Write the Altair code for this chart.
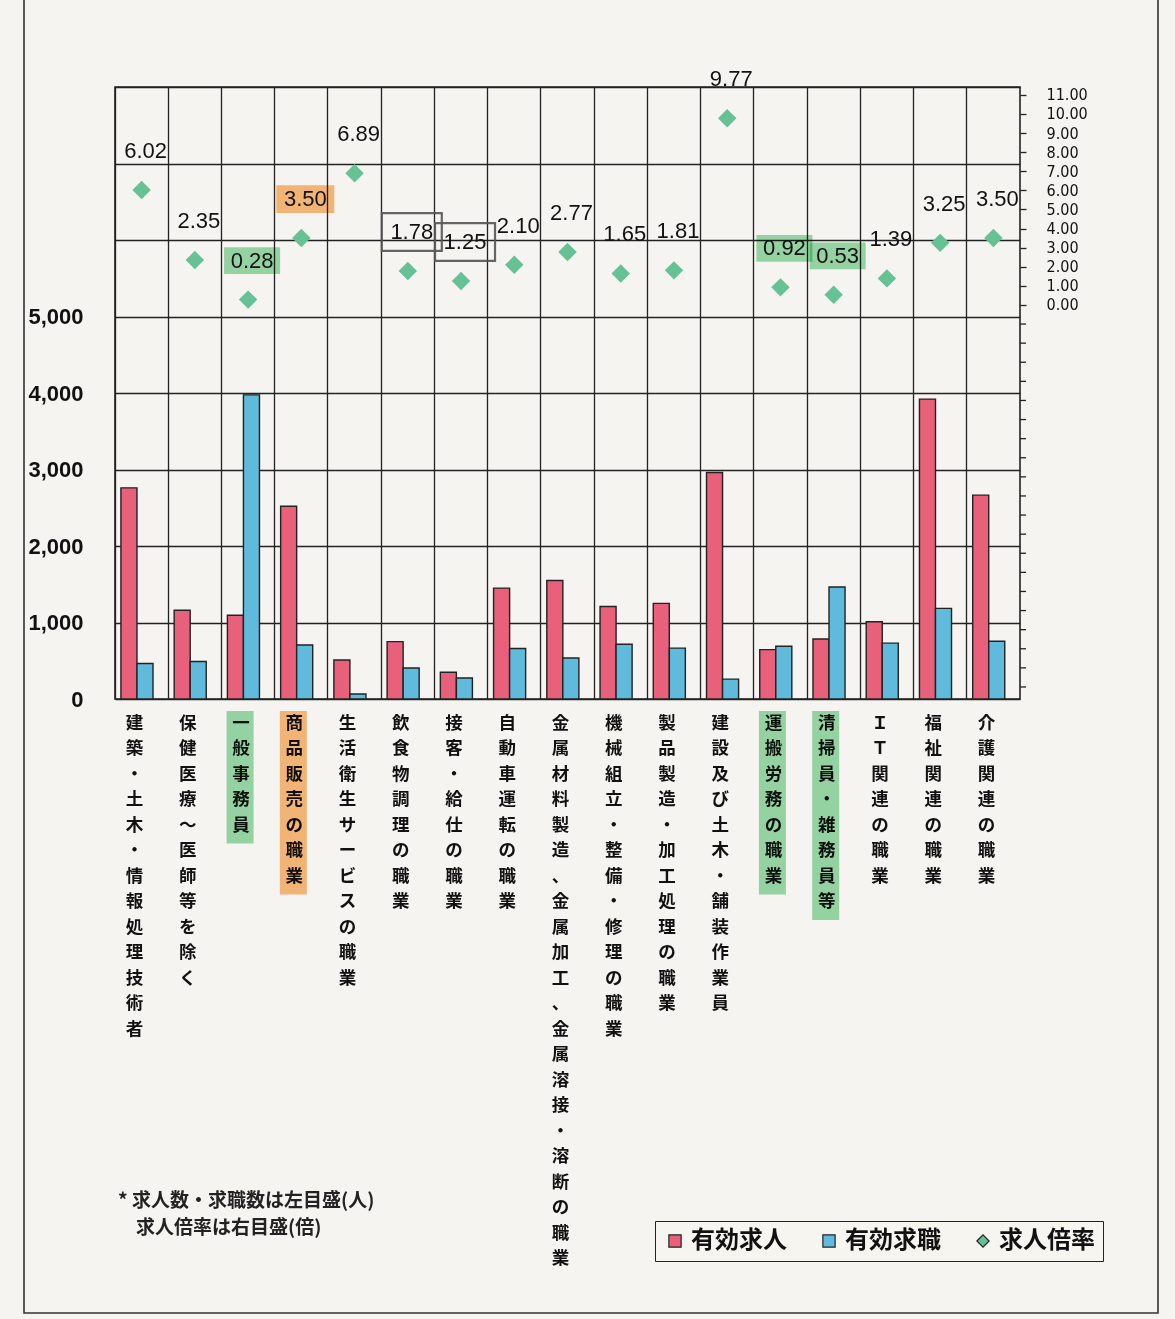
import altair as alt
import pandas as pd

# ---------------- data ----------------
categories = [
    "建築・土木・情報処理技術者",
    "保健医療〜医師等を除く",
    "一般事務員",
    "商品販売の職業",
    "生活衛生サービスの職業",
    "飲食物調理の職業",
    "接客・給仕の職業",
    "自動車運転の職業",
    "金属材料製造、金属加工、金属溶接・溶断の職業",
    "機械組立・整備・修理の職業",
    "製品製造・加工処理の職業",
    "建設及び土木・舗装作業員",
    "運搬労務の職業",
    "清掃員・雑務員等",
    "ＩＴ関連の職業",
    "福祉関連の職業",
    "介護関連の職業",
]
job_offers = [2760, 1160, 1095, 2520, 510, 750, 350, 1450, 1550, 1210, 1250, 2960, 645, 785, 1010, 3920, 2665]
job_seekers = [465, 490, 3975, 705, 65, 405, 275, 660, 535, 715, 665, 260, 690, 1465, 730, 1185, 755]
ratios = [6.02, 2.35, 0.28, 3.50, 6.89, 1.78, 1.25, 2.10, 2.77, 1.65, 1.81, 9.77, 0.92, 0.53, 1.39, 3.25, 3.50]
series_names = ["有効求人", "有効求職", "求人倍率"]
left_ticks = [0, 1000, 2000, 3000, 4000, 5000, 6000, 7000, 8000]
right_label_ticks = list(range(0, 12))
right_minor_ticks = list(range(-20, 0))
green_marked = ["一般事務員", "運搬労務の職業", "清掃員・雑務員等"]
orange_marked = ["商品販売の職業"]
boxed = ["飲食物調理の職業", "接客・給仕の職業"]
footnote_line1 = "* 求人数・求職数は左目盛(人)"
footnote_line2 = "求人倍率は右目盛(倍)"

bars_df = pd.DataFrame(
    {"cat": categories * 2,
     "series": [series_names[0]] * len(categories) + [series_names[1]] * len(categories),
     "value": job_offers + job_seekers}
)
rate_df = pd.DataFrame({"cat": categories, "ratio": ratios, "series": series_names[2]})
minor_df = pd.DataFrame({"ratio": right_minor_ticks})

# ---------------- style ----------------
W, H = 905, 612
RED, BLUE, GREEN = "#e8607a", "#5fbadb", "#66c295"
HL_GREEN, HL_ORANGE = "#8fd8a2", "#fbb56e"
JP = "Noto Sans CJK JP"
LAT = "Liberation Sans"
NARROW = "Liberation Sans Narrow, DejaVu Sans Condensed, Arial Narrow, sans-serif"
LINE_H = 25.5

color_scale = alt.Scale(domain=series_names, range=[RED, BLUE, GREEN])
shape_scale = alt.Scale(domain=series_names, range=["square", "square", "diamond"])
legend_def = alt.Legend(
    title=None, orient="none", legendX=540, legendY=1134, direction="horizontal",
    labelFont=JP, labelFontSize=24, labelFontWeight="bold", labelColor="#111",
    symbolSize=150, symbolStrokeWidth=1.2, symbolStrokeColor="#222",
    columnPadding=30, labelOffset=4, padding=8,
    strokeColor="#222", fillColor="#f6f5f0",
)

x_enc = alt.X(
    "cat:N", sort=categories, title=None,
    scale=alt.Scale(paddingInner=0, paddingOuter=0),
    axis=alt.Axis(
        bandPosition=0, grid=True, gridColor="#222", gridWidth=1.3,
        ticks=False, domain=False,
        labelExpr="split(datum.label, '')", labelAngle=0,
        labelAlign="center", labelBaseline="top", labelOffset=-7,
        labelPadding=15, labelLineHeight=LINE_H, labelLimit=0, labelOverlap=False,
        labelFont=JP, labelFontSize=17.5, labelFontWeight="bold", labelColor="#111",
    ),
)

left_y = alt.Y(
    "value:Q", title=None,
    scale=alt.Scale(domain=[0, 8000], nice=False, zero=True),
    axis=alt.Axis(
        values=left_ticks, grid=True, gridColor="#222", gridWidth=1.3,
        ticks=False, domain=False, labelPadding=32,
        labelExpr="datum.value <= 5000 ? format(datum.value, ',') : ''",
        labelFont=LAT, labelFontSize=22, labelFontWeight="bold", labelColor="#111",
    ),
)

right_scale = alt.Scale(domain=[-20.63, 11.41], nice=False, zero=False)
right_axis = alt.Axis(
    orient="right", values=right_label_ticks, format=".2f", grid=False, domain=False,
    tickSize=6, tickColor="#222", tickWidth=1.3, labelPadding=20,
    labelOverlap=False, labelBound=False, labelFlush=False,
    labelFont=NARROW, labelFontSize=16, labelColor="#111", labelAlign="left",
)

# ---------------- left group: bars ----------------
bars = alt.Chart(bars_df).mark_bar(stroke="#222", strokeWidth=1.4).encode(
    x=x_enc,
    xOffset=alt.XOffset(
        "series:N",
        scale=alt.Scale(domain=series_names[:2], paddingInner=0, paddingOuter=0.66, align=0.28),
    ),
    y=left_y,
    color=alt.Color("series:N", scale=color_scale, legend=legend_def),
)

# ---------------- right group: ratio diamonds + labels ----------------
OFF_Y, OFF_X = -39, 4
rect_path = "M-1,-0.48H1V0.48H-1Z"
box_path = "M-1,-0.63H1V0.63H-1Z"
y_rate = alt.Y("ratio:Q", scale=right_scale, axis=right_axis, title=None)

minor_ticks = alt.Chart(minor_df).mark_rule(color="#222", strokeWidth=1.3).encode(
    x=alt.value(W), x2=alt.value(W + 6), y=y_rate
)

hl_green_val = alt.Chart(rate_df).transform_filter(
    alt.FieldOneOfPredicate(field="cat", oneOf=green_marked)
).mark_point(shape=rect_path, size=56 * 56, filled=True, color=HL_GREEN, opacity=0.9,
             yOffset=OFF_Y, xOffset=OFF_X, blend="multiply").encode(x=x_enc, y=y_rate)
hl_orange_val = alt.Chart(rate_df).transform_filter(
    alt.FieldOneOfPredicate(field="cat", oneOf=orange_marked)
).mark_point(shape=rect_path, size=58 * 58, filled=True, color=HL_ORANGE, opacity=0.9,
             yOffset=OFF_Y, xOffset=OFF_X, blend="multiply").encode(x=x_enc, y=y_rate)
box_val = alt.Chart(rate_df).transform_filter(
    alt.FieldOneOfPredicate(field="cat", oneOf=boxed)
).mark_point(shape=box_path, size=60 * 60, filled=False, color="#555", strokeWidth=2.2,
             opacity=0.9, yOffset=OFF_Y, xOffset=OFF_X).encode(x=x_enc, y=y_rate)

points = alt.Chart(rate_df).mark_point(filled=True, size=340, opacity=1).encode(
    x=x_enc,
    y=y_rate,
    color=alt.Color("series:N", scale=color_scale, legend=legend_def),
    shape=alt.Shape("series:N", scale=shape_scale, legend=legend_def),
)
labels = alt.Chart(rate_df).mark_text(
    dy=OFF_Y, dx=OFF_X, font=LAT, fontSize=22, color="#111", baseline="middle"
).encode(
    x=x_enc, y=y_rate,
    text=alt.Text("ratio:Q", format=".2f"),
)

right_group = alt.layer(hl_green_val, hl_orange_val, box_val, points, labels, minor_ticks)

# ---------------- annotations (pixel space) ----------------
cat_df = pd.DataFrame({"cat": categories})


def strip(cats, colr):
    return alt.Chart(cat_df).transform_filter(
        alt.FieldOneOfPredicate(field="cat", oneOf=cats)
    ).transform_calculate(
        ytop=f"{H + 12}", ybot=f"{H + 17} + length(datum.cat) * {LINE_H}"
    ).mark_bar(width=27, xOffset=-8, color=colr, opacity=0.9, blend="multiply").encode(
        x=x_enc,
        y=alt.Y("ytop:Q", scale=None, axis=None),
        y2=alt.Y2("ybot:Q"),
    )


strip_green = strip(green_marked, HL_GREEN)
strip_orange = strip(orange_marked, HL_ORANGE)

one = pd.DataFrame({"k": [0]})
foot1 = alt.Chart(one).mark_text(
    text=footnote_line1, align="left", baseline="middle", font=JP, fontSize=19,
    fontWeight="bold", color="#222"
).encode(x=alt.value(3), y=alt.value(1114))
foot2 = alt.Chart(one).mark_text(
    text=footnote_line2, align="left", baseline="middle", font=JP, fontSize=19,
    fontWeight="bold", color="#222"
).encode(x=alt.value(21), y=alt.value(1141))
frame = alt.Chart(one).mark_rect(fill=None, stroke="#333", strokeWidth=1.6).encode(
    x=alt.value(-91), x2=alt.value(1043), y=alt.value(-120), y2=alt.value(1226)
)

annotations = alt.layer(frame, strip_green, strip_orange, foot1, foot2)

chart = alt.layer(bars, right_group, annotations).resolve_scale(
    y="independent"
).properties(
    width=W, height=H,
    autosize=alt.AutoSizeParams(type="none"),
    padding={"left": 115, "top": 87, "right": 155, "bottom": 620},
    background="#f5f4f0",
).configure_view(
    stroke="#222", strokeWidth=1.6
)

chart.save("out.html", embed_options={"renderer": "svg", "actions": False})
